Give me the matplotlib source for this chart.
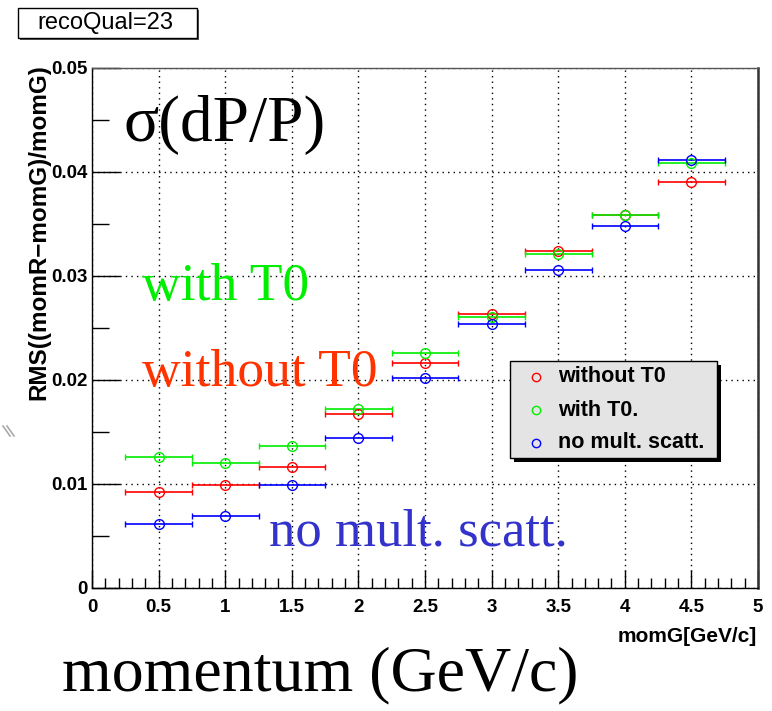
import matplotlib
matplotlib.use("Agg")
import matplotlib.pyplot as plt
from matplotlib.patches import Rectangle
from matplotlib.lines import Line2D
from matplotlib.ticker import MultipleLocator, FuncFormatter

# momentum bin centres and half widths (GeV/c)
mom = [0.5, 1.0, 1.5, 2.0, 2.5, 3.0, 3.5, 4.0, 4.5]
mom_halfwidth = 0.25

# RMS((momR-momG)/momG) per bin
rms_without_t0 = [0.0092, 0.0099, 0.0116, 0.0167, 0.0216, 0.0263, 0.0324, 0.0359, 0.0390]
rms_with_t0 = [0.0126, 0.0120, 0.0137, 0.0172, 0.0226, 0.0261, 0.0321, 0.0359, 0.0409]
rms_no_scatt = [0.0062, 0.0069, 0.0099, 0.0144, 0.0202, 0.0254, 0.0306, 0.0348, 0.0412]

series = [
    ("without T0", rms_without_t0, "#ff0000"),
    ("with T0.", rms_with_t0, "#00ee00"),
    ("no mult. scatt.", rms_no_scatt, "#0000ff"),
]

W, H = 772, 711
SANS = ["Liberation Sans", "DejaVu Sans"]
SERIF = ["Liberation Serif", "DejaVu Serif"]


def px(x, y):
    # pixel position (from top left) -> figure fraction
    return x / W, 1 - y / H


fig = plt.figure(figsize=(W / 100, H / 100), dpi=100)
ax = fig.add_axes([92 / W, 1 - 588 / H, (758 - 92) / W, (588 - 68) / H])

for label, vals, col in series:
    ax.errorbar(mom, vals, xerr=mom_halfwidth, fmt="o", mfc="none", mec=col,
                ecolor=col, ms=7, mew=1.0, elinewidth=1.2, capsize=2.5,
                capthick=1.2, zorder=3)

ax.set_xlim(0, 5)
ax.set_ylim(0, 0.05)
ax.xaxis.set_major_locator(MultipleLocator(0.5))
ax.xaxis.set_minor_locator(MultipleLocator(0.1))
ax.yaxis.set_major_locator(MultipleLocator(0.01))
ax.yaxis.set_minor_locator(MultipleLocator(0.005))
ax.xaxis.set_major_formatter(FuncFormatter(lambda v, p: f"{v:g}"))
ax.yaxis.set_major_formatter(FuncFormatter(lambda v, p: f"{v:g}"))

ax.tick_params(axis="x", which="major", direction="in", length=13, width=1, pad=8)
ax.tick_params(axis="x", which="minor", direction="in", length=7, width=1)
ax.tick_params(axis="y", which="major", direction="in", length=20, width=1, pad=3)
ax.tick_params(axis="y", which="minor", direction="in", length=12, width=1)
for lab in ax.get_xticklabels() + ax.get_yticklabels():
    lab.set_family(SANS)
    lab.set_fontweight("bold")
    lab.set_fontsize(13.5)

ax.grid(True, which="major", color="black", linestyle=(0, (1, 3)), linewidth=1)
for s in ax.spines.values():
    s.set_linewidth(1)
ax.spines["right"].set_linewidth(1.8)
ax.spines["right"].set_color("#333333")
ax.spines["top"].set_color("#555555")

# axis titles
fig.text(*px(39, 64), "RMS((momR\u2212momG)/momG)", rotation=90, ha="center",
         va="top", family=SANS, fontweight="bold", fontsize=17.5)
fig.text(*px(757, 637), "momG[GeV/c]", ha="right", va="center", family=SANS,
         fontweight="bold", fontsize=15)

# stats box
fig.add_artist(Rectangle(px(20, 40), 179 / W, 30 / H, transform=fig.transFigure,
                         facecolor="#555555", edgecolor="none"))
fig.add_artist(Rectangle(px(18, 38), 179 / W, 30 / H, transform=fig.transFigure,
                         facecolor="white", edgecolor="black", lw=1))
fig.text(*px(105, 23), "recoQual=23", ha="center", va="center", family=SANS,
         fontsize=17)

# legend box
fig.add_artist(Rectangle(px(514, 462), 207 / W, 97 / H, transform=fig.transFigure,
                         facecolor="black", edgecolor="none", zorder=5))
fig.add_artist(Rectangle(px(510, 458), 207 / W, 97 / H, transform=fig.transFigure,
                         facecolor="#e4e4e4", edgecolor="black", lw=1, zorder=6))
for i, (label, vals, col) in enumerate(series):
    yy = 377 + i * 33
    fig.add_artist(Line2D([536 / W], [1 - yy / H], transform=fig.transFigure,
                          marker="o", ms=6, mfc="none", mec=col, mew=1.0,
                          linestyle="none", zorder=7))
    fig.text(*px(558, yy), label, ha="left", va="center", family=SANS,
             fontweight="bold", fontsize=15.5, zorder=7)

# slide annotations
fig.text(*px(124, 141), "\u03c3(dP/P)", family=SERIF, fontsize=47, color="black",
         va="baseline")
fig.text(*px(142, 300), "with T0", family=SERIF, fontsize=38.5, color="#00ee00",
         va="baseline")
fig.text(*px(142, 386), "without T0", family=SERIF, fontsize=38.5, color="#ff3300",
         va="baseline")
fig.text(*px(269, 545), "no mult. scatt.", family=SERIF, fontsize=38,
         color="#3333cc", va="baseline")
fig.text(*px(62, 690), "momentum (GeV/c)", family=SERIF, fontsize=46,
         color="black", va="baseline")

# small grey marks at the left edge
for dx in (0, 4):
    fig.add_artist(Line2D([(3 + dx) / W, (10 + dx) / W], [1 - 426 / H, 1 - 436 / H],
                          transform=fig.transFigure, color="#aaaaaa", lw=1.2))

fig.savefig("out.png", dpi=100)
